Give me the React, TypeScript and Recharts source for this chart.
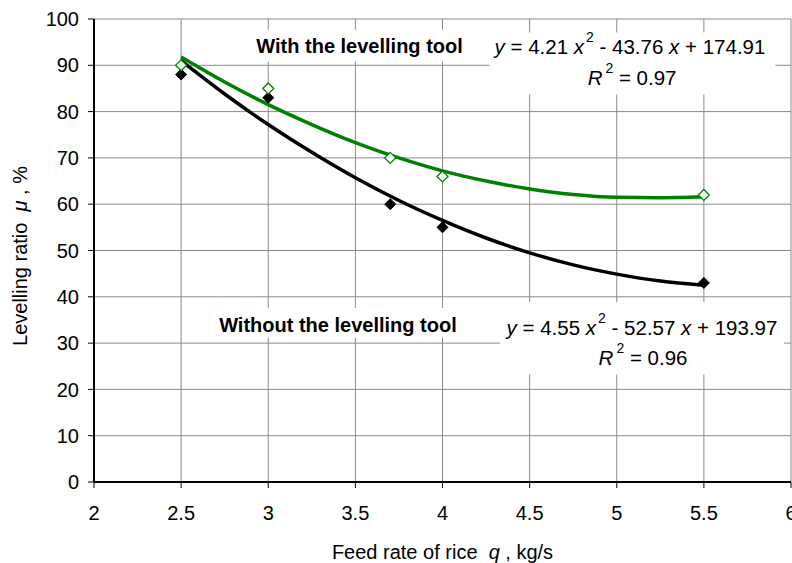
import React from 'react';
import {
  ComposedChart,
  Line,
  Scatter,
  XAxis,
  YAxis,
  CartesianGrid,
  ReferenceArea,
  ReferenceDot,
} from 'recharts';

// ---- data ----
const feedRates = [2.5, 3, 3.7, 4, 5.5];
const withToolValues = [90, 85, 70, 66, 62];
const withoutToolValues = [88, 83, 60, 55, 43];

const fitX = [2.5, 2.75, 3, 3.25, 3.5, 3.75, 4, 4.25, 4.5, 4.75, 5, 5.25, 5.5];
const withToolFit = [91.8, 86.4, 81.5, 77.2, 73.3, 70.0, 67.2, 65.0, 63.3, 62.1, 61.5, 61.4, 61.6];
const withoutToolFit = [91.0, 83.8, 77.2, 71.2, 65.7, 60.8, 56.5, 52.7, 49.5, 46.9, 44.9, 43.4, 42.5];

const xTicks = [2, 2.5, 3, 3.5, 4, 4.5, 5, 5.5, 6];
const yTicks = [0, 10, 20, 30, 40, 50, 60, 70, 80, 90, 100];

const withLabel = 'With the levelling tool';
const withoutLabel = 'Without the levelling tool';
const withEq = { a: '4.21', b: '43.76', c: '174.91', r2: '0.97' };
const withoutEq = { a: '4.55', b: '52.57', c: '193.97', r2: '0.96' };

const withPoints = feedRates.map((x, i) => ({ x, y: withToolValues[i] }));
const withoutPoints = feedRates.map((x, i) => ({ x, y: withoutToolValues[i] }));
const withFitData = fitX.map((x, i) => ({ x, y: withToolFit[i] }));
const withoutFitData = fitX.map((x, i) => ({ x, y: withoutToolFit[i] }));

const FONT = "'Liberation Sans', Arial, sans-serif";
const GREEN = '#008000';

const center = (vb: any) => ({
  cx: vb.x + (vb.width || 0) / 2,
  cy: vb.y + (vb.height || 0) / 2,
});

const boldLabel = (txt: string) => (p: any) => {
  const { cx, cy } = center(p.viewBox);
  return (
    <text
      x={cx}
      y={cy}
      textAnchor="middle"
      dominantBaseline="central"
      fontFamily={FONT}
      fontSize={20}
      fontWeight="bold"
      fill="#000"
    >
      {txt}
    </text>
  );
};

const eqLabel = (eq: { a: string; b: string; c: string }) => (p: any) => {
  const { cx, cy } = center(p.viewBox);
  return (
    <text
      x={cx}
      y={cy}
      textAnchor="middle"
      dominantBaseline="central"
      fontFamily={FONT}
      fontSize={20.5}
      fill="#000"
      style={{ whiteSpace: 'pre' }}
    >
      <tspan fontStyle="italic">y</tspan>
      <tspan>{` = ${eq.a} `}</tspan>
      <tspan fontStyle="italic">x</tspan>
      <tspan fontSize={14} dy={-9} dx={2}>2</tspan>
      <tspan dy={9}>{` - ${eq.b} `}</tspan>
      <tspan fontStyle="italic">x</tspan>
      <tspan>{` + ${eq.c}`}</tspan>
    </text>
  );
};

const r2Label = (r2: string) => (p: any) => {
  const { cx, cy } = center(p.viewBox);
  return (
    <text
      x={cx}
      y={cy}
      textAnchor="middle"
      dominantBaseline="central"
      fontFamily={FONT}
      fontSize={20.5}
      fill="#000"
      style={{ whiteSpace: 'pre' }}
    >
      <tspan fontStyle="italic">R</tspan>
      <tspan fontSize={14} dy={-9} dx={3}>2</tspan>
      <tspan dy={9}>{` = ${r2}`}</tspan>
    </text>
  );
};

const FilledDiamond = (props: any) => {
  const { cx, cy } = props;
  const r = 5.5;
  return (
    <path
      d={`M${cx},${cy - r}L${cx + r},${cy}L${cx},${cy + r}L${cx - r},${cy}Z`}
      fill="#000"
      stroke="#000"
      strokeWidth={1}
    />
  );
};

const HollowDiamond = (props: any) => {
  const { cx, cy } = props;
  const r = 5.5;
  return (
    <path
      d={`M${cx},${cy - r}L${cx + r},${cy}L${cx},${cy + r}L${cx - r},${cy}Z`}
      fill="#fff"
      stroke={GREEN}
      strokeWidth={1.3}
    />
  );
};

const XTitle = (p: any) => {
  const vb = p.viewBox;
  return (
    <text
      x={vb.x + vb.width / 2}
      y={552}
      textAnchor="middle"
      dominantBaseline="central"
      fontFamily={FONT}
      fontSize={20}
      fill="#000"
      style={{ whiteSpace: 'pre' }}
    >
      <tspan>{'Feed rate of rice  '}</tspan>
      <tspan fontStyle="italic">q</tspan>
      <tspan>{' , kg/s'}</tspan>
    </text>
  );
};

const YTitle = () => (
  <text
    x={20}
    y={256}
    transform="rotate(-90 20 256)"
    textAnchor="middle"
    dominantBaseline="central"
    fontFamily={FONT}
    fontSize={20}
    fill="#000"
    style={{ whiteSpace: 'pre' }}
  >
    <tspan>{'Levelling ratio  '}</tspan>
    <tspan fontStyle="italic">μ</tspan>
    <tspan>{' , %'}</tspan>
  </text>
);

export default function App() {
  return (
    <div style={{ position: 'absolute', left: 0, top: 0, background: '#fff' }}>
      <ComposedChart
        width={792}
        height={563}
        margin={{ top: 19, right: 1, left: 0, bottom: 0 }}
      >
        <CartesianGrid stroke="#8a8a8a" strokeWidth={1} />
        <XAxis
          type="number"
          dataKey="x"
          domain={[2, 6]}
          ticks={xTicks}
          interval={0}
          height={81}
          axisLine={{ stroke: '#000', strokeWidth: 2 }}
          tickLine={{ stroke: '#000', strokeWidth: 1 }}
          tickSize={6}
          tickMargin={18}
          tick={{ fill: '#000', fontSize: 20, fontFamily: FONT }}
          label={<XTitle />}
          allowDataOverflow
        />
        <YAxis
          type="number"
          dataKey="y"
          domain={[0, 100]}
          ticks={yTicks}
          interval={0}
          width={94}
          axisLine={{ stroke: '#000', strokeWidth: 2 }}
          tickLine={{ stroke: '#000', strokeWidth: 1 }}
          tickSize={6}
          tickMargin={9}
          tick={{ fill: '#000', fontSize: 20, fontFamily: FONT }}
          label={<YTitle />}
        />
        <ReferenceArea x1={2.89} x2={4.27} y1={90.8} y2={97.7} fill="#fff" fillOpacity={1} stroke="none" />
        <ReferenceArea x1={4.27} x2={5.91} y1={83.7} y2={97.1} fill="#fff" fillOpacity={1} stroke="none" />
        <ReferenceArea x1={2.68} x2={4.31} y1={31.2} y2={37.6} fill="#fff" fillOpacity={1} stroke="none" />
        <ReferenceArea x1={4.33} x2={5.96} y1={23.2} y2={38.8} fill="#fff" fillOpacity={1} stroke="none" />
        <Line
          data={withFitData}
          dataKey="y"
          type="monotone"
          stroke={GREEN}
          strokeWidth={3.5}
          dot={false}
          isAnimationActive={false}
        />
        <Line
          data={withoutFitData}
          dataKey="y"
          type="monotone"
          stroke="#000"
          strokeWidth={3.5}
          dot={false}
          isAnimationActive={false}
        />
        <Scatter data={withoutPoints} dataKey="y" shape={<FilledDiamond />} isAnimationActive={false} />
        <Scatter data={withPoints} dataKey="y" shape={<HollowDiamond />} isAnimationActive={false} />
        <ReferenceDot x={3.524} y={94.2} r={0} stroke="none" fill="none" label={boldLabel(withLabel)} />
        <ReferenceDot x={5.076} y={94.2} r={0} stroke="none" fill="none" label={eqLabel(withEq)} />
        <ReferenceDot x={5.088} y={87.5} r={0} stroke="none" fill="none" label={r2Label(withEq.r2)} />
        <ReferenceDot x={3.40} y={33.9} r={0} stroke="none" fill="none" label={boldLabel(withoutLabel)} />
        <ReferenceDot x={5.145} y={33.5} r={0} stroke="none" fill="none" label={eqLabel(withoutEq)} />
        <ReferenceDot x={5.151} y={27.0} r={0} stroke="none" fill="none" label={r2Label(withoutEq.r2)} />
      </ComposedChart>
    </div>
  );
}
